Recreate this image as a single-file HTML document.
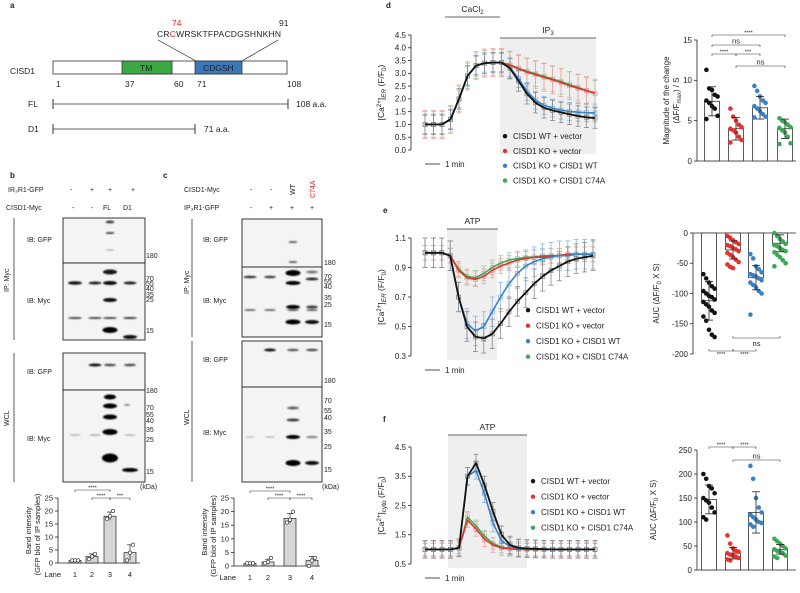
<!DOCTYPE html>
<html><head><meta charset="utf-8"><style>
html,body{margin:0;padding:0;background:#fff;}
svg{display:block;font-family:"Liberation Sans",sans-serif;}
text{fill:#222;}
</style></head><body>
<svg id="fig" width="800" height="593" viewBox="0 0 800 593">
<defs><filter id="bl" x="-50%" y="-100%" width="200%" height="300%"><feGaussianBlur stdDeviation="0.9"/></filter></defs>
<!-- Panel a -->
<g font-size="8.5">
<text x="10" y="8" font-weight="bold" font-size="8">a</text>
<text x="172" y="26" fill="#e02020" style="fill:#e02020">74</text>
<text x="279" y="26">91</text>
<text x="157" y="37" textLength="124">CR<tspan style="fill:#e02020">C</tspan>WRSKTFPACDGSHNKHN</text>
<line x1="158" y1="40" x2="196" y2="61" stroke="#222" stroke-width="0.7"/>
<line x1="278" y1="40" x2="242" y2="61" stroke="#222" stroke-width="0.7"/>
<text x="10" y="74">CISD1</text>
<rect x="53" y="61" width="234" height="13" fill="#fff" stroke="#333" stroke-width="0.8"/>
<rect x="122" y="61" width="50" height="13" fill="#3aa845" stroke="#333" stroke-width="0.8"/>
<text x="140" y="71">TM</text>
<rect x="195" y="61" width="47" height="13" fill="#3b78b8" stroke="#333" stroke-width="0.8"/>
<text x="203" y="71">CDGSH</text>
<text x="56" y="87">1</text><text x="125" y="87">37</text><text x="174" y="87">60</text><text x="197" y="87">71</text><text x="287" y="87">108</text>
<text x="28" y="107">FL</text>
<line x1="53" y1="104" x2="288" y2="104" stroke="#333" stroke-width="0.8"/><line x1="53" y1="99" x2="53" y2="109" stroke="#333"/><line x1="288" y1="99" x2="288" y2="109" stroke="#333"/>
<text x="296" y="107">108 a.a.</text>
<text x="28" y="132">D1</text>
<line x1="53" y1="129" x2="195" y2="129" stroke="#333" stroke-width="0.8"/><line x1="53" y1="124" x2="53" y2="134" stroke="#333"/><line x1="195" y1="124" x2="195" y2="134" stroke="#333"/>
<text x="204" y="132">71 a.a.</text>
</g>
<!-- Panel b and c static -->
<g font-size="7">
<text x="10" y="178" font-weight="bold" font-size="8">b</text>
<text x="163" y="178" font-weight="bold" font-size="8">c</text>
<text x="8" y="192">IR₃R1-GFP</text>
<text x="70" y="192">-</text><text x="90" y="192">+</text><text x="108" y="192">+</text><text x="131" y="192">+</text>
<text x="6" y="210">CISD1-Myc</text>
<text x="72" y="210">-</text><text x="91" y="210">-</text><text x="103" y="210">FL</text><text x="123" y="210">D1</text>
<text x="184" y="192">CISD1-Myc</text>
<text x="250" y="192">-</text><text x="270" y="192">-</text>
<text transform="translate(295,195) rotate(-90)">WT</text>
<text transform="translate(315,198) rotate(-90)" style="fill:#e02020">C74A</text>
<text x="184" y="210">IP₃R1-GFP</text>
<text x="250" y="210">-</text><text x="269" y="210">+</text><text x="290" y="210">+</text><text x="310" y="210">+</text>
<line x1="14" y1="218" x2="14" y2="340" stroke="#333" stroke-width="0.8"/>
<text transform="translate(9,292) rotate(-90)">IP: Myc</text>
<line x1="14" y1="353" x2="14" y2="482" stroke="#333" stroke-width="0.8"/>
<text transform="translate(9,426) rotate(-90)">WCL</text>
<text x="27" y="242">IB: GFP</text><text x="27" y="303">IB: Myc</text><text x="27" y="374">IB: GFP</text><text x="27" y="441">IB: Myc</text>
<line x1="192" y1="219" x2="192" y2="337" stroke="#333" stroke-width="0.8"/>
<text transform="translate(189,294) rotate(-90)">IP: Myc</text>
<line x1="192" y1="341" x2="192" y2="482" stroke="#333" stroke-width="0.8"/>
<text transform="translate(189,425) rotate(-90)">WCL</text>
<text x="203" y="242">IB: GFP</text><text x="203" y="303">IB: Myc</text><text x="203" y="362">IB: GFP</text><text x="203" y="435">IB: Myc</text>
<g id="blots"></g>
<g font-size="7">
<text x="146" y="258">180</text><text x="146" y="281">70</text><text x="146" y="286">55</text><text x="146" y="291">40</text><text x="146" y="297">35</text><text x="146" y="302">25</text><text x="146" y="333">15</text>
<text x="146" y="393">180</text><text x="146" y="410">70</text><text x="146" y="417">55</text><text x="146" y="423">40</text><text x="146" y="432">35</text><text x="146" y="442">25</text><text x="146" y="474">15</text>
<text x="140" y="489">(kDa)</text>
<text x="324" y="265">180</text><text x="324" y="279">70</text><text x="324" y="284">55</text><text x="324" y="289">40</text><text x="324" y="300">35</text><text x="324" y="307">25</text><text x="324" y="327">15</text>
<text x="324" y="383">180</text><text x="324" y="403">70</text><text x="324" y="413">55</text><text x="324" y="420">40</text><text x="324" y="434">35</text><text x="324" y="449">25</text><text x="324" y="472">15</text>
<text x="322" y="489">(kDa)</text>
</g>
</g>
<g id="charts"></g>
</svg>
<script>
const NS='http://www.w3.org/2000/svg';
const fig=document.getElementById('fig');
const charts=document.getElementById('charts');
function mk(tag,a,p){const e=document.createElementNS(NS,tag);for(const k in a)e.setAttribute(k,a[k]);(p||charts).appendChild(e);return e;}
function txt(x,y,s,a,p){const t=mk('text',Object.assign({x:x,y:y},a||{}),p);t.textContent=s;return t;}

// ===== Blots (western blot images approximated) =====
const blots=document.getElementById('blots');
const blotBoxesB=[[63,218,82,45],[63,263,82,77],[63,353,82,37],[63,390,82,92]];
const blotBoxesC=[[242,219,80,48],[242,267,80,70],[242,341,80,46],[242,387,80,95]];
[...blotBoxesB,...blotBoxesC].forEach(b=>{const r=mk('rect',{x:b[0],y:b[1],width:b[2],height:b[3],fill:'#f4f4f4',stroke:'#222','stroke-width':0.9},blots);

});
const bandsB=[[110,222,9,3,.7],[110,233,9,2,.7],[110,250,8,1.5,.3],
[75,283,14,3.5,.9],[95,283,13,3,.85],[110,272,14,5,.9],[110,283,14,4,.95],[130,283,13,3,.85],[110,300,14,4,.95],
[75,318,14,2,.7],[95,318,14,2,.7],[110,318,14,2,.7],[130,318,14,2,.75],[110,330,15,6,1],[130,337,14,4,.95],
[95,365,13,3,.9],[110,365,12,2.5,.7],[130,365,12,2.5,.7],
[110,397,12,5,1],[110,406,14,5,1],[110,417,14,5,1],[110,432,15,6,1],[110,458,16,9,1],[130,470,16,4,1],
[75,435,12,1.5,.3],[95,435,12,1.5,.35],[130,435,12,1.5,.3],[127,405,6,1.5,.6]];
const bandsC=[[293,242,9,2,.6],[293,262,9,2,.6],
[250,277,13,2.5,.8],[270,277,12,2.5,.75],[293,273,15,6,1],[293,283,15,4,1],[312,272,12,3,.5],[312,279,13,3,.8],
[293,307,14,4,1],[312,307,12,3,.75],[250,310,12,2,.55],[270,310,12,2,.55],[293,310,12,2,.6],[312,310,12,2,.6],
[293,322,15,5,1],[312,322,14,4,.95],
[270,350,12,3,.9],[293,350,12,2.5,.65],[312,350,12,2.5,.7],
[293,408,12,3,.6],[293,420,13,3,.75],[293,437,14,4,1],[312,437,12,2,.5],[250,437,10,1.3,.25],[270,437,10,1.3,.3],[293,463,15,6,1],[312,463,14,4,.95]];
[...bandsB,...bandsC].forEach(b=>{const e=mk('ellipse',{cx:b[0],cy:b[1],rx:b[2]/2,ry:b[3]/2,fill:'#000','fill-opacity':b[4],filter:'url(#bl)'},blots);

});

// ===== Band intensity bar charts (b, c) =====
const laneLabels=['1','2','3','4'];
const bandTicks=[0,5,10,15,20,25];
const bMeans=[1,2.5,18,4];
const bPoints=[[1,1,1],[1.5,2.5,3.5],[17,18,20],[1,4,7]];
const bSD=[0.1,1,1.6,3];
const cMeans=[1,1.5,17.5,2];
const cPoints=[[1,1,1],[1,1.5,3],[16,17,20],[0,2,3]];
const cSD=[0.1,1,1.8,1.5];

function bandChart(o){
  const sy=v=>o.y0-(v/25)*(o.y0-o.y25);
  const ax=mk('line',{x1:o.ax,y1:o.y25,x2:o.ax,y2:o.y0,stroke:'#222','stroke-width':0.8});
  
  
  const xa=mk('line',{x1:o.ax,y1:o.y0,x2:o.ax2,y2:o.y0,stroke:'#222','stroke-width':0.8});
  
  
  bandTicks.forEach(t=>{mk('line',{x1:o.ax-3,x2:o.ax,y1:sy(t),y2:sy(t),stroke:'#222','stroke-width':0.8});
    const l=txt(o.ax-5,sy(t)+2.5,String(t),{'font-size':7.5,'text-anchor':'end'});
    
    });
  o.means.forEach((m,i)=>{const cx=o.lanes[i];
    const r=mk('rect',{x:cx-6,y:sy(m),width:12,height:o.y0-sy(m),fill:'#d6d6d6',stroke:'#222','stroke-width':0.7});
    
    
    mk('line',{x1:cx,x2:cx,y1:sy(m+o.sd[i]),y2:sy(Math.max(0,m-o.sd[i])),stroke:'#222','stroke-width':0.7});
    mk('line',{x1:cx-3,x2:cx+3,y1:sy(m+o.sd[i]),y2:sy(m+o.sd[i]),stroke:'#222','stroke-width':0.7});
    o.pts[i].forEach((p,j)=>{const c=mk('circle',{cx:cx+(j-1)*3,cy:sy(p),r:1.7,fill:'#fff',stroke:'#222','stroke-width':0.6});
      
      });
    const l=txt(cx,o.y0+14,laneLabels[i],{'font-size':7.5,'text-anchor':'middle'});
    
    });
  const ln=txt(o.lanes[0]-14,o.y0+14,'Lane',{'font-size':7.5,'text-anchor':'end'});
  
  
  const yl=txt(0,0,'Band intensity',{'font-size':7.5,'text-anchor':'middle',transform:`translate(${o.ax-27},${(o.y0+o.y25)/2}) rotate(-90)`});
  
  
  const yl2=txt(0,0,'(GFP blot of IP samples)',{'font-size':7.5,'text-anchor':'middle',transform:`translate(${o.ax-18},${(o.y0+o.y25)/2+4}) rotate(-90)`});
  
  
  o.brackets.forEach(b=>bracket(o.lanes[b[0]],o.lanes[b[1]],b[2],b[3],true));
}
function bracket(x1,x2,y,label,down){
  const g=mk('path',{d:`M${x1},${y+(down?2:-2)}V${y}H${x2}V${y+(down?2:-2)}`,fill:'none',stroke:'#333','stroke-width':0.6});
  
  
  const t=txt((x1+x2)/2,label==='ns'?(down?y-1.5:y+8):(down?y-0.5:y+5),label,{'font-size':label==='ns'?7.5:5.5,'text-anchor':'middle'});
  
  
}
bandChart({ax:58,ax2:140,y0:563,y25:498,lanes:[75,92,110,130],means:bMeans,sd:bSD,pts:bPoints,brackets:[[0,2,490,'****'],[1,2,498,'****'],[2,3,498,'***']]});
bandChart({ax:234,ax2:320,y0:566,y25:498,lanes:[250,268,290,312],means:cMeans,sd:cSD,pts:cPoints,brackets:[[0,2,491,'****'],[1,2,498,'****'],[2,3,498,'****']]});

// ===== Time-course line charts =====
const legendNames=['CISD1 WT + vector','CISD1 KO + vector','CISD1 KO + CISD1 WT','CISD1 KO + CISD1 C74A'];
const colors=['#111','#e5322d','#3a82c4','#3aa856'];
const errColors=['#888','#f2a0a0','#8ab6e0','#94d2a2'];
const dTicks=[0,0.5,1,1.5,2,2.5,3,3.5,4,4.5];
const dBlack=[1,1,1,1.2,2.0,2.9,3.3,3.4,3.42,3.42,3.2,2.7,2.2,1.85,1.65,1.55,1.47,1.4,1.33,1.28,1.25];
const dRed=[1,1,1,1.2,2.0,2.9,3.3,3.4,3.42,3.42,3.32,3.18,3.05,2.95,2.85,2.75,2.64,2.52,2.42,2.32,2.22];
const dBlue=[1,1,1,1.2,2.0,2.9,3.3,3.4,3.42,3.42,3.22,2.8,2.3,1.95,1.75,1.64,1.56,1.51,1.48,1.46,1.45];
const dGreen=[1,1,1,1.2,2.0,2.9,3.3,3.4,3.42,3.42,3.33,3.2,3.08,2.98,2.88,2.78,2.68,2.56,2.45,2.33,2.22];
const dErr=[0.4,0.55,0.35,0.5];
const eTicks=[0.3,0.5,0.7,0.9,1.1];
const eBlack=[1,1,1,0.98,0.7,0.5,0.43,0.42,0.45,0.52,0.6,0.67,0.73,0.79,0.84,0.88,0.91,0.94,0.96,0.97,0.98];
const eRed=[1,1,1,0.98,0.88,0.83,0.82,0.84,0.88,0.91,0.93,0.95,0.96,0.97,0.97,0.98,0.98,0.99,0.99,0.99,0.99];
const eBlue=[1,1,1,0.98,0.7,0.52,0.47,0.5,0.6,0.7,0.79,0.86,0.91,0.94,0.96,0.97,0.98,0.98,0.99,0.99,0.99];
const eGreen=[1,1,1,0.98,0.89,0.84,0.83,0.86,0.9,0.93,0.95,0.96,0.97,0.97,0.98,0.98,0.98,0.99,0.99,0.99,0.99];
const eErr=[0.1,0.05,0.1,0.05];
const fTicks=[0.5,1.5,2.5,3.5,4.5];
const fBlack=[1,1,1,1,1.05,3.5,3.95,3.2,2.3,1.5,1.15,1.05,1.03,1.02,1.01,1,1,1,1,1,1];
const fRed=[1,1,1,1,1.05,2.0,1.7,1.35,1.15,1.05,1.02,1,1,1,1,1,1,1,1,1,1];
const fBlue=[1,1,1,1,1.05,3.5,3.7,2.9,1.9,1.3,1.1,1.03,1.02,1.01,1,1,1,1,1,1,1];
const fGreen=[1,1,1,1,1.05,2.1,1.8,1.45,1.2,1.08,1.03,1.01,1,1,1,1,1,1,1,1,1];
const fErr=[0.3,0.25,0.3,0.2];

function lineChart(o){
  const n=o.series[0].length;
  const sx=i=>o.x0+i*(o.x1-o.x0)/(n-1);
  const sy=v=>o.yb-(v-o.ymin)/(o.ymax-o.ymin)*(o.yb-o.yt);
  const sh=mk('rect',{x:o.shade[0],y:o.shade[1],width:o.shade[2]-o.shade[0],height:o.yb-o.shade[1]+4,fill:'#efefef'});
  
  
  const ax=mk('line',{x1:o.ax,y1:o.yt,x2:o.ax,y2:o.yb,stroke:'#222','stroke-width':0.8});
  
  
  o.ticks.forEach(t=>{mk('line',{x1:o.ax-3,x2:o.ax,y1:sy(t),y2:sy(t),stroke:'#222','stroke-width':0.8});
    const l=txt(o.ax-5,sy(t)+2.8,o.fmt(t),{'font-size':8,'text-anchor':'end'});
    
    });
  const yt=txt(0,0,'',{'font-size':8.5,'text-anchor':'middle',transform:`translate(${o.ax-27},${(o.yt+o.yb)/2}) rotate(-90)`});
  yt.innerHTML=o.ytitle;
  
  
  o.order.forEach(k=>{const s=o.series[k];
    s.forEach((v,i)=>{const x=sx(i),e=o.err[k];
      mk('line',{x1:x,x2:x,y1:sy(v+e),y2:sy(v-e),stroke:errColors[k],'stroke-width':0.8});
      mk('line',{x1:x-2.5,x2:x+2.5,y1:sy(v+e),y2:sy(v+e),stroke:errColors[k],'stroke-width':0.8});
      mk('line',{x1:x-2.5,x2:x+2.5,y1:sy(v-e),y2:sy(v-e),stroke:errColors[k],'stroke-width':0.8});
      const m=mk('rect',{x:x-2,y:sy(v)-2,width:4,height:4,fill:'none',stroke:errColors[k],'stroke-width':0.8});
      
      });
  });
  o.order.forEach(k=>{const s=o.series[k];
    let d='';s.forEach((v,i)=>{d+=(i?'L':'M')+sx(i).toFixed(1)+','+sy(v).toFixed(1);});
    const p=mk('path',{d:d,fill:'none',stroke:colors[k],'stroke-width':k===0?1.8:1.6,'stroke-linejoin':'round'});
    
    });
  legendNames.forEach((nm,k)=>{const y=o.leg[1]+k*o.leg[2];
    const c=mk('circle',{cx:o.leg[0],cy:y-2.8,r:2.2,fill:colors[k]});
    
    
    const t=txt(o.leg[0]+8,y,nm,{'font-size':8});
    
    });
  const sb=mk('line',{x1:o.x0,x2:o.x0+15,y1:o.sb,y2:o.sb,stroke:'#222','stroke-width':0.8});
  
  
  const st=txt(o.x0+20,o.sb+3,'1 min',{'font-size':8});
  
  
  o.stims.forEach(s=>{const l=mk('line',{x1:s[0],x2:s[1],y1:s[2],y2:s[2],stroke:'#333','stroke-width':0.8});
    
    
    const t=txt((s[0]+s[1])/2,s[2]-5,'',{'font-size':8.5,'text-anchor':'middle'});t.innerHTML=s[3];
    
    });
}
lineChart({x0:425,x1:595,yt:35,yb:150,ymin:0,ymax:4.5,ax:411,ticks:dTicks,fmt:t=>t.toFixed(1),
  series:[dBlack,dRed,dBlue,dGreen],err:dErr,order:[3,1,2,0],shade:[500,38,596],
  ytitle:'[Ca<tspan font-size="6" dy="-3">2+</tspan><tspan dy="3">]</tspan><tspan font-style="italic" font-size="6.5" dy="2">ER</tspan><tspan dy="-2"> (F/F</tspan><tspan font-size="6" dy="2">0</tspan><tspan dy="-2">)</tspan>',
  leg:[505,139,14.8],sb:164,stims:[[445,500,17,'CaCl<tspan font-size="6" dy="2">2</tspan>'],[500,596,38,'IP<tspan font-size="6" dy="2">3</tspan>']]});
lineChart({x0:425,x1:593,yt:238,yb:356,ymin:0.3,ymax:1.1,ax:411,ticks:eTicks,fmt:t=>t.toFixed(1),
  series:[eBlack,eRed,eBlue,eGreen],err:eErr,order:[3,1,2,0],shade:[447,229,497],
  ytitle:'[Ca<tspan font-size="6" dy="-3">2+</tspan><tspan dy="3">]</tspan><tspan font-style="italic" font-size="6.5" dy="2">ER</tspan><tspan dy="-2"> (F/F</tspan><tspan font-size="6" dy="2">0</tspan><tspan dy="-2">)</tspan>',
  leg:[528,313,15.5],sb:370,stims:[[447,498,229,'ATP']]});
lineChart({x0:425,x1:595,yt:447,yb:564,ymin:0.5,ymax:4.5,ax:411,ticks:fTicks,fmt:t=>t.toFixed(1),
  series:[fBlack,fRed,fBlue,fGreen],err:fErr,order:[3,1,2,0],shade:[448,435,527],
  ytitle:'[Ca<tspan font-size="6" dy="-3">2+</tspan><tspan dy="3">]</tspan><tspan font-size="6.5" dy="2">cyto</tspan><tspan dy="-2"> (F/F</tspan><tspan font-size="6" dy="2">0</tspan><tspan dy="-2">)</tspan>',
  leg:[533,484,15.5],sb:578,stims:[[448,527,435,'ATP']]});
[['d',386,8],['e',383,213],['f',383,422]].forEach(p=>{const t=txt(p[1],p[2],p[0],{'font-size':8,'font-weight':'bold'});
  
  });

// ===== Scatter bar charts =====
const dBarTicks=[0,5,10,15];
const dBarMeans=[7.4,4.0,6.6,4.0];
const dBarSD=[1.8,1.4,1.4,1.2];
const dBarPts=[[11.3,9,8.8,8.2,8,7.5,7.2,6.8,6.5,5.6,5.2],[6.5,5.5,5,4.5,4.2,4,3.8,3.5,3,2.6,2.3],[9.3,8.7,8,7.5,7.2,6.8,6.5,6.2,5.8,5.5,5.4],[5.3,5,4.8,4.5,4.2,4.1,3.8,3.5,3,2.2,2.1]];
const eBarTicks=[0,-50,-100,-150,-200];
const eBarMeans=[-112,-28,-74,-17];
const eBarSD=[32,15,20,14];
const eBarPts=[[-68,-75,-82,-88,-92,-96,-100,-104,-106,-110,-114,-118,-122,-128,-132,-138,-145,-160,-168,-172],[-5,-8,-12,-15,-18,-20,-22,-25,-27,-30,-33,-36,-40,-44,-48,-52,-56,-58],[-35,-42,-55,-60,-65,-68,-70,-72,-75,-78,-82,-86,-90,-96,-100,-135],[0,-5,-10,-14,-18,-20,-22,-25,-28,-30,-32,-36,-40,-45,-50,-55]];
const fBarTicks=[0,50,100,150,200,250];
const fBarMeans=[147,35,120,43];
const fBarSD=[30,12,43,10];
const fBarPts=[[200,190,175,170,160,150,145,140,130,120,110,105],[72,55,45,40,38,35,32,30,28,25,22,20],[217,190,150,130,120,115,110,105,100,98,95,90],[65,60,55,50,45,43,40,38,35,30,28,25]];

function scatterBar(o){
  const sy=v=>o.yb-(v-o.ymin)/(o.ymax-o.ymin)*(o.yb-o.yt);
  const ax=mk('line',{x1:o.ax,y1:o.yt,x2:o.ax,y2:o.yb,stroke:'#222','stroke-width':0.8});
  
  
  const xa=mk('line',{x1:o.ax,y1:sy(0),x2:796,y2:sy(0),stroke:'#222','stroke-width':0.8});
  
  
  o.ticks.forEach(t=>{mk('line',{x1:o.ax-3,x2:o.ax,y1:sy(t),y2:sy(t),stroke:'#222','stroke-width':0.8});
    const l=txt(o.ax-5,sy(t)+2.8,String(t),{'font-size':8,'text-anchor':'end'});
    
    });
  o.titles.forEach((tt,i)=>{const t=txt(0,0,'',{'font-size':8,'text-anchor':'middle',transform:`translate(${o.tx[i]},${(o.yt+o.yb)/2}) rotate(-90)`});
    t.innerHTML=tt;
    
    });
  o.means.forEach((m,i)=>{const cx=o.cx[i];const y0=sy(0),ym=sy(m);
    const r=mk('rect',{x:cx-7.5,y:Math.min(y0,ym),width:15,height:Math.abs(ym-y0),fill:'#fff',stroke:'#333','stroke-width':0.8});
    
    
    o.pts[i].forEach((p,j)=>{const c=mk('circle',{cx:cx+((j%5)-2)*2.8,cy:sy(p),r:2.3,fill:colors[i]});
      
      });
    const a=sy(m+o.sd[i]),b=sy(m-o.sd[i]);
    mk('line',{x1:cx,x2:cx,y1:a,y2:b,stroke:'#222','stroke-width':0.8});
    mk('line',{x1:cx-4,x2:cx+4,y1:a,y2:a,stroke:'#222','stroke-width':0.8});
    mk('line',{x1:cx-4,x2:cx+4,y1:b,y2:b,stroke:'#222','stroke-width':0.8});});
  o.brackets.forEach(b=>bracket(o.cx[b[0]],o.cx[b[1]],b[2],b[3],b[4]));
}
scatterBar({ax:697,yt:40,yb:161,ymin:0,ymax:15,ticks:dBarTicks,means:dBarMeans,sd:dBarSD,pts:dBarPts,cx:[712,736,760,785],
  titles:['Magnitude of the change','(ΔF/F<tspan font-size="6" dy="2">max</tspan><tspan dy="-2">) / S</tspan>'],tx:[669,679],
  brackets:[[0,3,35,'****',true],[0,2,45,'ns',true],[0,1,54,'****',true],[1,2,54,'***',true],[1,3,66,'ns',true]]});
scatterBar({ax:693,yt:233,yb:354,ymin:-200,ymax:0,ticks:eBarTicks,means:eBarMeans,sd:eBarSD,pts:eBarPts,cx:[709,733,756,780],
  titles:['AUC (ΔF/F<tspan font-size="6" dy="2">0</tspan><tspan dy="-2"> X S)</tspan>'],tx:[659],
  brackets:[[0,1,351,'****',false],[1,2,351,'****',false],[1,3,338,'ns',false]]});
scatterBar({ax:697,yt:450,yb:570,ymin:0,ymax:250,ticks:fBarTicks,means:fBarMeans,sd:fBarSD,pts:fBarPts,cx:[709,733,756,780],
  titles:['AUC (ΔF/F<tspan font-size="6" dy="2">0</tspan><tspan dy="-2"> X S)</tspan>'],tx:[656],
  brackets:[[0,1,447,'****',true],[1,2,447,'****',true],[1,3,460,'ns',true]]});
</script>
</body></html>
